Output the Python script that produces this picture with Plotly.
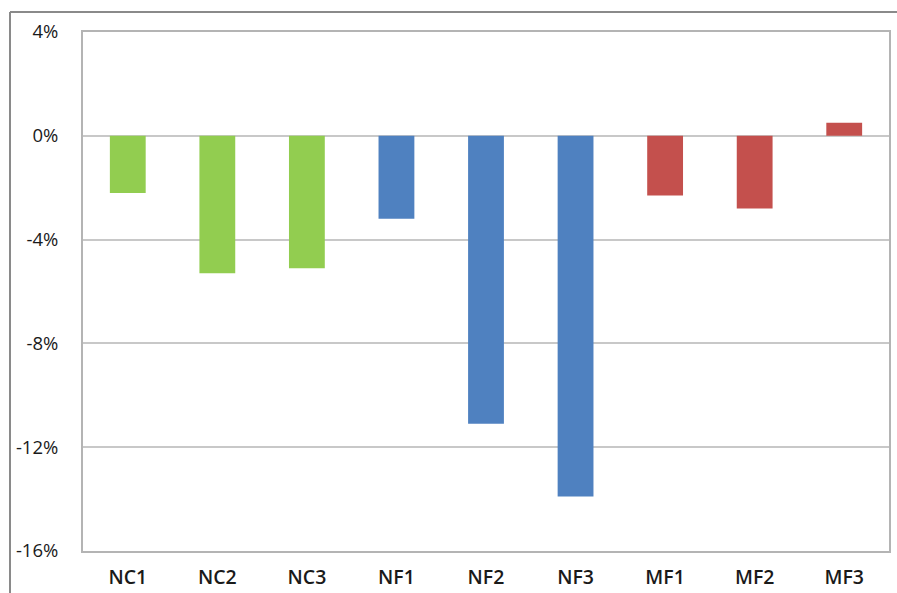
import plotly.graph_objects as go

# Change by configuration (percent)
categories = ["NC1", "NC2", "NC3", "NF1", "NF2", "NF3", "MF1", "MF2", "MF3"]
values = [-2.2, -5.3, -5.1, -3.2, -11.1, -13.9, -2.3, -2.8, 0.5]
bar_colors = ["#92cd50", "#92cd50", "#92cd50",
              "#4f81c0", "#4f81c0", "#4f81c0",
              "#c4504d", "#c4504d", "#c4504d"]

tick_vals = [4, 0, -4, -8, -12, -16]
tick_text = ["4%", "0%", "-4%", "-8%", "-12%", "-16%"]

W, H = 897, 593
ML, MR, MT, MB = 83, 8, 32, 42

fig = go.Figure(
    go.Bar(
        x=categories,
        y=values,
        marker=dict(color=bar_colors, line=dict(width=0)),
        hoverinfo="x+y",
    )
)

# Outer frame (top and left edges visible)
pw = W - ML - MR
ph = H - MT - MB
fx0 = (10 - ML) / pw
fy1 = 1 + (MT - 12) / ph
fig.add_shape(type="line", xref="paper", yref="paper",
              x0=fx0, x1=1 + (MR + 5) / pw, y0=fy1, y1=fy1,
              line=dict(color="#8a8a8a", width=2))
fig.add_shape(type="line", xref="paper", yref="paper",
              x0=fx0, x1=fx0, y0=fy1, y1=-(MB + 5) / ph,
              line=dict(color="#8a8a8a", width=2))

fig.update_layout(
    width=W, height=H,
    margin=dict(l=ML, r=MR, t=MT, b=MB, autoexpand=False),
    paper_bgcolor="white",
    plot_bgcolor="white",
    bargap=0.6,
    showlegend=False,
    font=dict(family="Open Sans, Noto Sans, sans-serif", color="#222222"),
)

fig.update_xaxes(
    showline=True, mirror=True, linecolor="#b4b4b4", linewidth=2,
    showgrid=False, ticks="", automargin=False,
    tickfont=dict(size=19.5, color="#1a1a1a", weight=600),
    ticklabelstandoff=8,
)
fig.update_yaxes(
    range=[-16, 4],
    tickvals=tick_vals, ticktext=tick_text,
    showline=True, mirror=True, linecolor="#b4b4b4", linewidth=2,
    showgrid=True, gridcolor="#c8c8c8", gridwidth=1.5,
    zeroline=True, zerolinecolor="#c8c8c8", zerolinewidth=1.5,
    ticks="", ticklabelstandoff=19, automargin=False,
    tickfont=dict(size=18.5, color="#1a1a1a"),
)

fig.write_html("out.html")
